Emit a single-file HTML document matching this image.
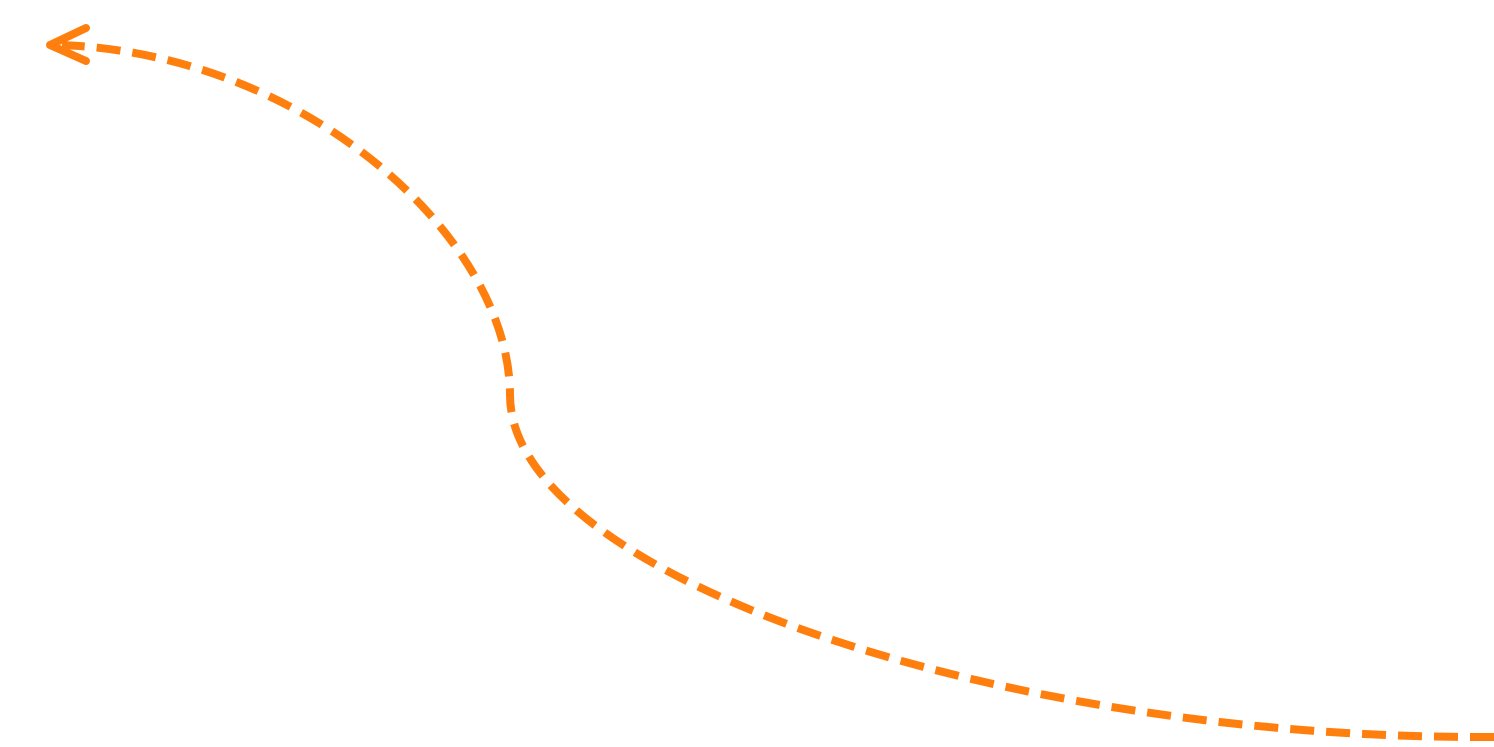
<!DOCTYPE html>
<html><head><meta charset="utf-8"><style>html,body{margin:0;padding:0;background:#fff}</style></head>
<body>
<svg width="1494" height="742" viewBox="0 0 1494 742" xmlns="http://www.w3.org/2000/svg">
<path d="M1494,737 C1000,740 510,575 510,395 C510,240 310,55 62,45" fill="none" stroke="#ff7f0e" stroke-width="8" stroke-dasharray="24,12"/>
<polyline points="86,28 50,45 86,61" fill="none" stroke="#ff7f0e" stroke-width="8" stroke-linecap="round" stroke-linejoin="round"/>
</svg>
</body></html>
